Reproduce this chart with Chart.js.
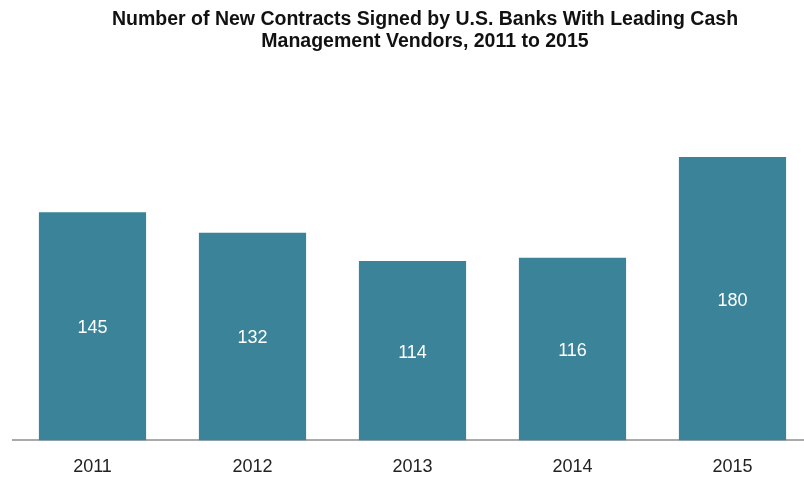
<!DOCTYPE html>
<html>
<head>
<meta charset="utf-8">
<script src="https://cdn.jsdelivr.net/npm/chart.js@4/dist/chart.umd.min.js"></script>
<style>
  html, body { margin: 0; padding: 0; background: #ffffff; overflow: hidden; }
  #wrap { width: 850px; height: 494px; }
</style>
</head>
<body>
<div id="wrap"><canvas id="c" width="850" height="494"></canvas></div>
<script>
const years = ['2011', '2012', '2013', '2014', '2015'];
const contracts = [145, 132, 114, 116, 180];
const titleLines = [
  'Number of New Contracts Signed by U.S. Banks With Leading Cash',
  'Management Vendors, 2011 to 2015'
];

// Writes each bar's value in white at the middle of the bar
const barValueLabels = {
  id: 'barValueLabels',
  afterDatasetsDraw(chart) {
    const ctx = chart.ctx;
    const meta = chart.getDatasetMeta(0);
    ctx.save();
    ctx.fillStyle = '#ffffff';
    ctx.font = '18px "Liberation Sans", Arial, sans-serif';
    ctx.textAlign = 'center';
    ctx.textBaseline = 'middle';
    meta.data.forEach((bar, i) => {
      const mid = (bar.y + bar.base) / 2;
      ctx.fillText(String(contracts[i]), bar.x, mid + 2);
    });
    ctx.restore();
  }
};

// Centres the title across the whole canvas rather than the plot area
const titleAcrossCanvas = {
  id: 'titleAcrossCanvas',
  afterLayout(chart) {
    if (chart.titleBlock) {
      chart.titleBlock.left = 0;
      chart.titleBlock.right = chart.width;
    }
  }
};

new Chart(document.getElementById('c'), {
  type: 'bar',
  data: {
    labels: years,
    datasets: [{
      data: contracts,
      backgroundColor: '#3a8399',
      borderWidth: 0,
      categoryPercentage: 1,
      barPercentage: 0.67
    }]
  },
  options: {
    responsive: false,
    animation: false,
    layout: { padding: { left: 12.5, right: 37.5, top: 0, bottom: 0 } },
    plugins: {
      legend: { display: false },
      tooltip: { enabled: false },
      title: {
        display: true,
        text: titleLines,
        color: '#111111',
        font: { family: '"Liberation Sans", Arial, sans-serif', size: 19.5, weight: 'bold', lineHeight: 1.128 },
        padding: { top: 9, bottom: 72.6 }
      }
    },
    scales: {
      x: {
        grid: { display: false, drawTicks: false },
        border: { display: true, color: '#aaaaaa', width: 2 },
        ticks: {
          color: '#222222',
          padding: 16,
          font: { family: '"Liberation Sans", Arial, sans-serif', size: 18 }
        }
      },
      y: {
        display: false,
        min: 0,
        max: 200
      }
    }
  },
  plugins: [barValueLabels, titleAcrossCanvas]
});
</script>
</body>
</html>
